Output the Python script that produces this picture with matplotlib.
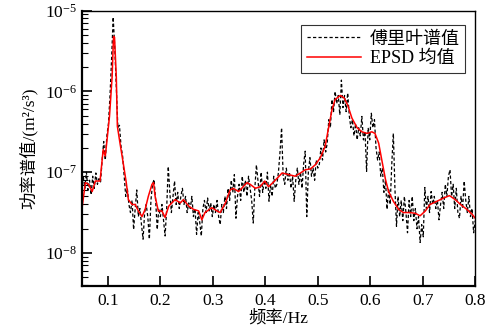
import numpy as np
import matplotlib
matplotlib.use("Agg")
import matplotlib.pyplot as plt
from matplotlib.ticker import LogLocator, NullFormatter

plt.rcParams['font.family'] = ['Liberation Serif', 'Noto Sans CJK SC']
plt.rcParams['mathtext.fontset'] = 'stix'

# Fourier spectrum (log10 of value), evenly spaced from 0.05 to 0.80 Hz
fourier_log = [
    -7.25, -7.05, -7.20, -7.00, -7.22, -7.10, -7.28, -7.05, -7.20, -7.01, -7.15, -7.08, -7.12, -6.85,
    -6.62, -6.85, -6.55, -6.40, -6.05, -5.60, -5.08,
    -5.45, -5.95, -6.45, -6.42, -6.68, -6.80, -7.05, -7.30, -7.20,
    -7.40, -7.50, -7.35, -7.71, -7.45, -7.22, -7.55, -7.45, -7.65, -7.83,
    -7.50, -7.40, -7.55, -7.83, -7.35, -7.15, -7.09, -7.35, -7.71, -7.45,
    -7.55, -7.40, -7.60, -7.79, -7.45, -6.93, -7.25, -7.50, -7.30, -7.11, -7.40,
    -7.25, -7.45, -7.30, -7.20, -7.40, -7.30, -7.50, -7.38, -7.45, -7.30,
    -7.55, -7.45, -7.77, -7.50, -7.62, -7.79, -7.45, -7.35, -7.50, -7.32,
    -7.48, -7.38, -7.55, -7.40, -7.50, -7.35, -7.55, -7.65, -7.40, -7.50,
    -7.30, -7.45, -7.20, -7.35,
    -7.10, -7.25, -7.03, -7.57, -7.30, -7.15, -7.35, -7.05, -7.25, -7.10,
    -7.30, -7.05, -7.20, -7.35, -7.63, -7.20, -6.91, -7.10, -7.30, -7.00,
    -7.25, -7.10, -7.20, -7.00, -7.36, -7.15, -7.30, -7.05, -7.20, -7.15,
    -7.00, -6.75, -6.45, -7.05,
    -7.15, -6.95, -7.10, -7.00, -7.20, -7.05, -7.36, -7.10, -6.95, -7.15,
    -7.00, -7.20, -6.90, -6.74, -7.55, -7.00, -6.82, -7.05, -6.95, -7.10,
    -6.85, -6.95,
    -6.90, -6.70, -6.85, -6.60, -6.75, -6.64, -6.35, -6.45, -6.10, -6.25,
    -6.00, -6.15, -6.05, -6.29, -5.86, -6.20, -6.05, -6.25, -6.02, -6.30,
    -6.45, -6.35, -6.55, -6.40, -6.60, -6.45, -6.55, -6.31, -6.60, -6.50,
    -6.99, -6.45, -6.60, -6.27, -6.45, -6.35, -6.70, -6.85, -6.75, -7.05,
    -6.95, -7.25, -7.10, -7.46, -7.20, -7.40, -6.90, -6.52, -7.20, -7.67,
    -7.30, -7.55, -7.35, -7.60, -7.30, -7.50, -7.75, -7.35, -7.55, -7.30,
    -7.60, -7.45, -7.70, -7.55, -7.87, -7.65, -7.80, -7.19, -7.45, -7.30,
    -7.50, -7.24, -7.40, -7.30, -7.45, -7.35, -7.59, -7.40, -7.25, -7.45,
    -7.15, -7.30, -7.05, -6.97, -7.30, -7.15, -7.45, -7.20, -7.50, -7.57,
    -7.30, -7.45, -7.11, -7.35, -7.50, -7.30, -7.55, -7.45, -7.75, -7.60,
]

# EPSD mean curve (frequency, log10 of value)
epsd_freq = [
    0.050, 0.057, 0.063, 0.070, 0.076, 0.085, 0.091, 0.095, 0.098, 0.103,
    0.108, 0.1107, 0.1126, 0.116, 0.118, 0.123, 0.129, 0.135, 0.139, 0.146,
    0.152, 0.158, 0.165, 0.171, 0.177, 0.184, 0.187, 0.190, 0.196, 0.203,
    0.209, 0.216, 0.222, 0.228, 0.238, 0.244, 0.254, 0.263, 0.273, 0.279,
    0.285, 0.298, 0.308, 0.314, 0.324, 0.333, 0.339, 0.349, 0.355, 0.365,
    0.371, 0.381, 0.390, 0.399, 0.406, 0.416, 0.432, 0.444, 0.457, 0.467,
    0.476, 0.486, 0.495, 0.505, 0.514, 0.520, 0.527, 0.533, 0.543, 0.550,
    0.557, 0.565, 0.575, 0.584, 0.594, 0.603, 0.609, 0.616, 0.622, 0.629,
    0.635, 0.644, 0.654, 0.663, 0.676, 0.686, 0.695, 0.705, 0.714, 0.727,
    0.740, 0.751, 0.762, 0.772, 0.784, 0.794, 0.800,
]
epsd_log = [
    -7.48, -7.13, -7.15, -7.24, -7.11, -7.11, -6.72, -6.80, -6.62, -6.31,
    -5.82, -5.32, -5.33, -5.82, -6.43, -6.64, -6.88, -7.13, -7.34, -7.40,
    -7.40, -7.48, -7.55, -7.46, -7.30, -7.15, -7.13, -7.30, -7.48, -7.48,
    -7.56, -7.42, -7.38, -7.34, -7.38, -7.34, -7.42, -7.46, -7.48, -7.59,
    -7.50, -7.44, -7.48, -7.50, -7.38, -7.22, -7.20, -7.24, -7.20, -7.13,
    -7.15, -7.20, -7.18, -7.11, -7.18, -7.12, -7.01, -7.03, -7.05, -7.01,
    -6.97, -6.96, -6.91, -6.82, -6.68, -6.47, -6.23, -6.10, -6.05, -6.08,
    -6.17, -6.33, -6.45, -6.50, -6.52, -6.50, -6.52, -6.64, -6.85, -7.09,
    -7.24, -7.36, -7.46, -7.50, -7.50, -7.51, -7.54, -7.48, -7.40, -7.36,
    -7.32, -7.29, -7.34, -7.40, -7.46, -7.52, -7.57,
]

x_ticks = [0.1, 0.2, 0.3, 0.4, 0.5, 0.6, 0.7, 0.8]
x_ticklabels = ['0.1', '0.2', '0.3', '0.4', '0.5', '0.6', '0.7', '0.8']

fourier_freq = np.linspace(0.05, 0.8, len(fourier_log))
fourier_vals = 10.0 ** np.array(fourier_log)
epsd_vals = 10.0 ** np.array(epsd_log)

fig = plt.figure(figsize=(4.95, 3.33), dpi=100)
ax = fig.add_axes([0.165, 0.141, 0.795, 0.827])

ax.plot(fourier_freq, fourier_vals, color='black', lw=0.9, ls=(0, (2.6, 1.8)),
        label='傅里叶谱值')
ax.plot(epsd_freq, epsd_vals, color='red', lw=1.1, label='EPSD 均值')

ax.set_yscale('log')
ax.set_xlim(0.05, 0.8)
ax.set_ylim(10 ** -8.41, 1e-5)
ax.set_xticks(x_ticks)
ax.set_xticklabels(x_ticklabels)
ax.yaxis.set_major_locator(LogLocator(base=10, numticks=10))
ax.yaxis.set_minor_locator(LogLocator(base=10, subs=np.arange(2, 10), numticks=20))
ax.yaxis.set_minor_formatter(NullFormatter())

ax.tick_params(axis='both', which='major', direction='in', length=7, width=1.2,
               labelsize=12.5, top=False, right=False)
ax.tick_params(axis='y', which='minor', direction='in', length=4, width=0.8,
               right=False)
ax.tick_params(axis='x', which='minor', bottom=False, top=False)
ax.tick_params(axis='x', pad=5)

for side in ['left', 'bottom']:
    ax.spines[side].set_linewidth(1.6)
for side in ['top', 'right']:
    ax.spines[side].set_linewidth(1.0)

ax.set_xlabel('频率/Hz', fontsize=12.5, labelpad=1)
ax.set_ylabel('功率谱值/(m²/s³)', fontsize=12.5, labelpad=5)

leg = ax.legend(loc='upper right', fontsize=13, frameon=True, fancybox=False,
                edgecolor='black', handlelength=3.0, borderpad=0.3,
                labelspacing=0.15, handletextpad=0.5, bbox_to_anchor=(0.998, 0.98))
leg.get_frame().set_linewidth(0.8)

fig.savefig('out.png', dpi=100)
